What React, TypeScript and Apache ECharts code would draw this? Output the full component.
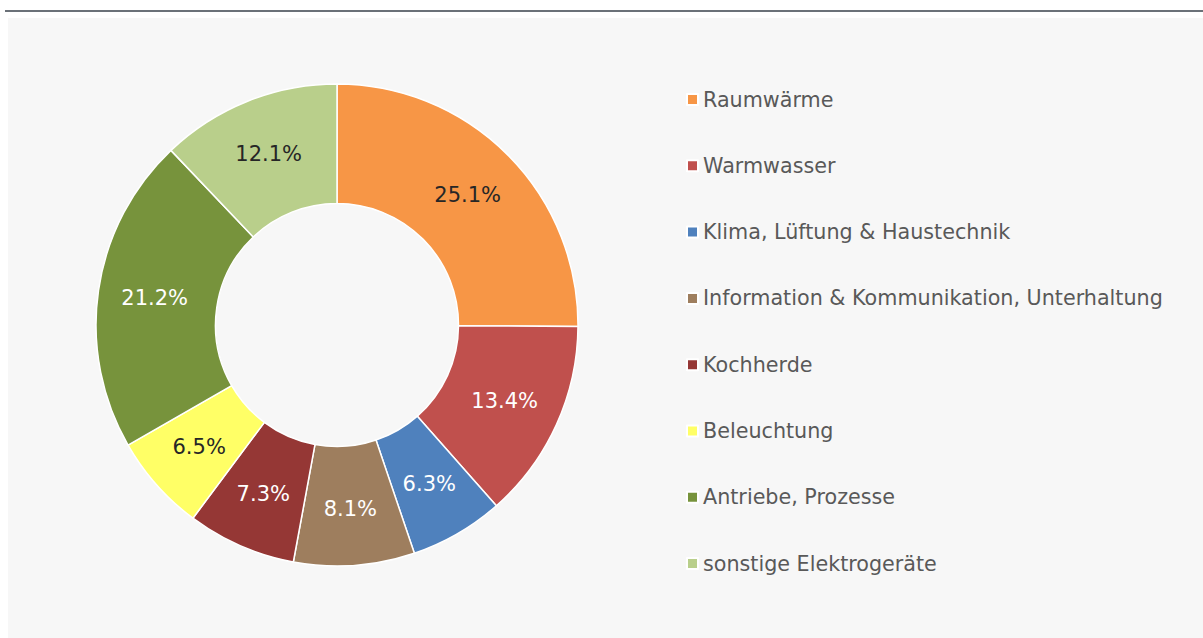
import React, { useEffect, useRef } from "react";
import * as echarts from "echarts";

const categories = [
  "Raumwärme",
  "Warmwasser",
  "Klima, Lüftung & Haustechnik",
  "Information & Kommunikation, Unterhaltung",
  "Kochherde",
  "Beleuchtung",
  "Antriebe, Prozesse",
  "sonstige Elektrogeräte",
];
const values = [25.1, 13.4, 6.3, 8.1, 7.3, 6.5, 21.2, 12.1];
const colors = ["#f79646", "#c0504d", "#4f81bd", "#9e7e5e", "#953735", "#ffff66", "#77933c", "#b9cf8b"];
const labelColors = ["#262626", "#ffffff", "#ffffff", "#ffffff", "#ffffff", "#262626", "#ffffff", "#262626"];

const FONT = "'DejaVu Sans', sans-serif";

export default function App() {
  const ref = useRef<HTMLDivElement>(null);
  useEffect(() => {
    document.body.style.margin = "0";
    const chart = echarts.init(ref.current!, null, { renderer: "svg" });
    chart.setOption({
      animation: false,
      backgroundColor: "#ffffff",
      graphic: [
        { type: "rect", shape: { x: 8, y: 18, width: 1195, height: 620 }, style: { fill: "#f7f7f7" }, z: -10 },
        { type: "rect", shape: { x: 5, y: 10, width: 1198, height: 2 }, style: { fill: "#6b7178" }, z: -10 },
      ],
      legend: {
        orient: "vertical",
        left: 686,
        top: 89,
        padding: 0,
        itemWidth: 11,
        itemHeight: 11,
        itemGap: 45.3,
        icon: "rect",
        data: categories,
        textStyle: { fontFamily: FONT, fontSize: 20.7, color: "#595959", lineHeight: 20, padding: [0, 0, 0, 0] },
      },
      series: [
        {
          type: "pie",
          center: [337, 325],
          radius: [121.5, 241],
          startAngle: 90,
          clockwise: true,
          avoidLabelOverlap: false,
          itemStyle: { borderColor: "#ffffff", borderWidth: 1.5 },
          label: {
            show: true,
            position: "inside",
            fontFamily: FONT,
            fontSize: 21,
            formatter: (p: any) => p.value.toFixed(1) + "%",
          },
          labelLine: { show: false },
          emphasis: { disabled: true },
          data: categories.map((name, i) => ({
            name,
            value: values[i],
            itemStyle: { color: colors[i] },
            label: { color: labelColors[i] },
          })),
        },
      ],
    });
    return () => chart.dispose();
  }, []);
  return <div ref={ref} style={{ width: 1203, height: 638 }} />;
}
